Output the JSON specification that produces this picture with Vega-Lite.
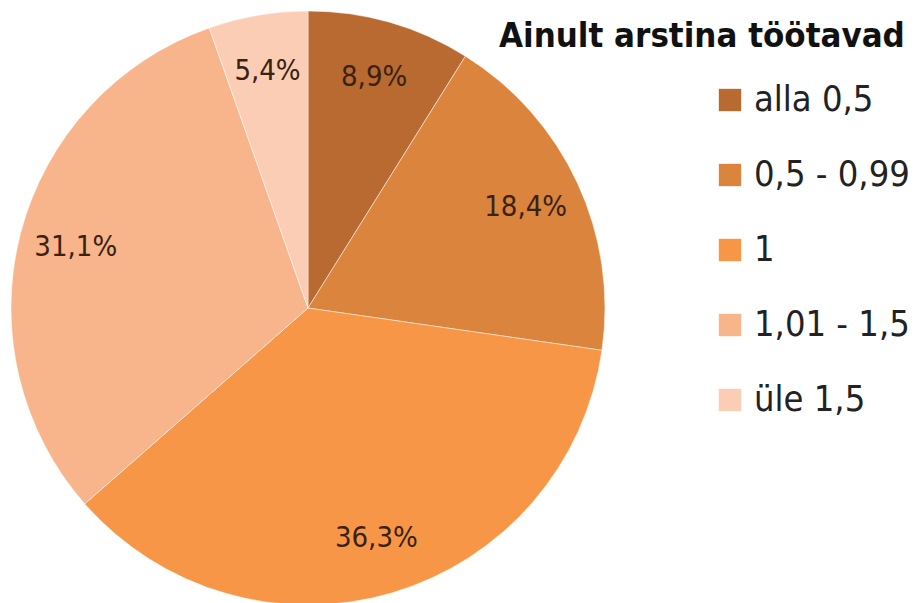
{
  "$schema": "https://vega.github.io/schema/vega-lite/v6.json",
  "width": 616,
  "height": 616,
  "padding": {"left": 0, "top": 0, "right": 300, "bottom": 0},
  "autosize": {"type": "none"},
  "background": "white",
  "title": {
    "text": "Ainult arstina töötavad",
    "anchor": "start",
    "frame": "group",
    "orient": "top",
    "baseline": "top",
    "offset": 0,
    "dx": 499,
    "dy": 54,
    "font": "DejaVu Sans Condensed",
    "fontSize": 34.5,
    "fontWeight": "bold",
    "color": "#111"
  },
  "data": {
    "values": [
      {"i": 1, "cat": "alla 0,5", "value": 8.9, "label": "8,9%"},
      {"i": 2, "cat": "0,5 - 0,99", "value": 18.4, "label": "18,4%"},
      {"i": 3, "cat": "1", "value": 36.3, "label": "36,3%"},
      {"i": 4, "cat": "1,01 - 1,5", "value": 31.1, "label": "31,1%"},
      {"i": 5, "cat": "üle 1,5", "value": 5.4, "label": "5,4%"}
    ]
  },
  "encoding": {
    "theta": {"field": "value", "type": "quantitative", "stack": true},
    "order": {"field": "i", "type": "quantitative"},
    "color": {
      "field": "cat",
      "type": "nominal",
      "sort": ["alla 0,5", "0,5 - 0,99", "1", "1,01 - 1,5", "üle 1,5"],
      "scale": {
        "domain": ["alla 0,5", "0,5 - 0,99", "1", "1,01 - 1,5", "üle 1,5"],
        "range": ["#B86A30", "#DA843E", "#F79646", "#F8B48B", "#FBCDB4"]
      },
      "legend": {
        "title": null,
        "orient": "none",
        "legendX": 712,
        "legendY": 82,
        "labelFont": "DejaVu Sans Condensed",
        "labelFontSize": 36,
        "labelColor": "#222",
        "labelLimit": 300,
        "labelOffset": 6,
        "symbolType": "square",
        "symbolSize": 500,
        "symbolStrokeWidth": 0,
        "rowPadding": 39,
        "offset": 0,
        "padding": 0
      }
    }
  },
  "layer": [
    {
      "mark": {"type": "arc", "outerRadius": 297, "stroke": "white", "strokeWidth": 0.5}
    },
    {
      "mark": {"type": "text", "radius": 240, "font": "DejaVu Sans Condensed", "fontSize": 29, "fill": "#3a2212"},
      "encoding": {
        "text": {"field": "label", "type": "nominal"},
        "color": {"value": "#3a2212"},
        "detail": {"field": "cat", "type": "nominal"}
      }
    }
  ],
  "config": {"view": {"stroke": null}}
}
